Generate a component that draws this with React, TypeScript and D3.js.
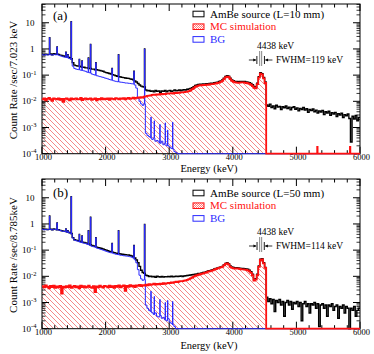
import React from 'react';
import * as d3 from 'd3';

// histogram binning used for every spectrum below (keV)
const binStart = 1000;
const binWidth = 25;
const lineWidthKeV = 6;

// gamma lines visible in AmBe and BG spectra
const lineEnergies = [1120, 1238, 1377, 1408, 1460, 1588, 1630, 1730, 1764, 1847, 2103, 2204, 2447, 2614];
const linePeaksA = [2.7, 1.2, 0.75, 0.6, 11, 0.4, 0.35, 0.45, 1.5, 0.3, 0.18, 0.6, 0.14, 1.0];
const linePeaksB = [2.0, 1.1, 0.65, 0.55, 11, 0.4, 0.35, 0.55, 1.8, 0.3, 0.18, 0.55, 0.15, 0.95];

// small BG lines above 2614 keV
const bgLineEnergies = [2714, 2766, 2855, 2939, 2976, 3055];
const bgLinesA = [0.0025, 0.0018, 0.0013, 0.0015, 0.0008, 0.0016];
const bgLinesB = [0.0027, 0.0017, 0.0013, 0.001, 0.0012, 0.0011];

// single-bin MC counts above the edge
const mcSpikeEnergies = [5330, 5845];
const mcSpikesA = [1.8e-4, 1.8e-4];
const mcSpikesB = [0, 0];

// (a) L=10 mm, 25 keV bins from 1000 keV
const amBeA = [
  0.62, 0.60, 0.63, 0.61, 0.62, 0.64, 0.60, 0.66, 0.62, 0.64,
  0.62, 0.58, 0.56, 0.54, 0.52, 0.50, 0.48, 0.46, 0.42, 0.30,
  0.24, 0.23, 0.22, 0.22, 0.21, 0.20, 0.20, 0.19, 0.19, 0.18,
  0.18, 0.17, 0.17, 0.16, 0.16, 0.155, 0.15, 0.145, 0.14, 0.13,
  0.125, 0.12, 0.115, 0.11, 0.105, 0.10, 0.095, 0.09, 0.088, 0.085,
  0.082, 0.08, 0.078, 0.076, 0.075, 0.072, 0.07, 0.066, 0.06, 0.055,
  0.048, 0.042, 0.038, 0.036, 0.035, 0.027, 0.025, 0.026, 0.024, 0.025,
  0.023, 0.026, 0.024, 0.025, 0.022, 0.025, 0.024, 0.026, 0.023, 0.025,
  0.026, 0.024, 0.025, 0.027, 0.025, 0.026, 0.027, 0.025, 0.027, 0.028,
  0.027, 0.029, 0.03, 0.031, 0.033, 0.036, 0.04, 0.042, 0.044, 0.045,
  0.045, 0.046, 0.045, 0.047, 0.046, 0.048, 0.049, 0.049, 0.051, 0.052,
  0.054, 0.057, 0.06, 0.066, 0.077, 0.089, 0.096, 0.092, 0.076, 0.065,
  0.061, 0.058, 0.057, 0.056, 0.057, 0.058, 0.057, 0.057, 0.055, 0.054,
  0.051, 0.048, 0.043, 0.037, 0.035, 0.049, 0.087, 0.124, 0.114, 0.082, 0.055,
  0.0072, 0.0065, 0.0078, 0.0058, 0.0066, 0.0052, 0.0071, 0.0060, 0.0064,
  0.0049, 0.0062, 0.0057, 0.0066, 0.0053, 0.0060, 0.0047, 0.0058, 0.0062, 0.0050,
  0.0056, 0.0043, 0.0054, 0.0049, 0.0058, 0.0046, 0.0052, 0.0038, 0.0049, 0.0044,
  0.0051, 0.0040, 0.0046, 0.0036, 0.0043, 0.0039, 0.0045, 0.0031, 0.0040, 0.0036,
  0.0042, 0.0029, 0.0037, 0.0033, 0.0038, 0.0026, 0.0034, 0.0030, 0.0035, 0.0024,
  0.0031, 0.0028, 0.0033, 0.0022, 0.00028, 0.0027, 0.0021, 0.0029, 0.0018, 0.0024,
];
const mcA = [
  0.012, 0.013, 0.011, 0.0125, 0.0135, 0.012, 0.0105, 0.013, 0.0125, 0.012,
  0.013, 0.0115, 0.0125, 0.0095, 0.0125, 0.013, 0.012, 0.011, 0.0128, 0.012,
  0.0125, 0.013, 0.0118, 0.0122, 0.0135, 0.0112, 0.0125, 0.0128, 0.0118, 0.0124,
  0.013, 0.0115, 0.0122, 0.0128, 0.0108, 0.0125, 0.012, 0.0132, 0.0118, 0.0126,
  0.0122, 0.013, 0.0115, 0.0128, 0.0125, 0.0118, 0.0132, 0.0126, 0.012, 0.0128,
  0.0125, 0.0133, 0.012, 0.0128, 0.0135, 0.0124, 0.013, 0.0138, 0.0128, 0.0135,
  0.014, 0.0135, 0.0145, 0.014, 0.015, 0.0155, 0.016, 0.0165, 0.017, 0.0175,
  0.018, 0.0175, 0.0185, 0.018, 0.019, 0.0185, 0.0192, 0.019, 0.0198, 0.0195,
  0.02, 0.0205, 0.0198, 0.021, 0.0208, 0.0215, 0.021, 0.022, 0.0218, 0.0225,
  0.023, 0.0235, 0.0245, 0.026, 0.029, 0.032, 0.036, 0.038, 0.04, 0.041,
  0.041, 0.042, 0.0415, 0.043, 0.0425, 0.044, 0.045, 0.0455, 0.047, 0.048,
  0.05, 0.052, 0.055, 0.06, 0.07, 0.082, 0.088, 0.085, 0.07, 0.06,
  0.056, 0.053, 0.052, 0.051, 0.052, 0.053, 0.053, 0.052, 0.05, 0.049,
  0.046, 0.043, 0.038, 0.033, 0.031, 0.045, 0.08, 0.115, 0.105, 0.075, 0.05,
];
const bgA = [
  0.6, 0.58, 0.61, 0.59, 0.6, 0.6, 0.58, 0.62, 0.6, 0.6,
  0.58, 0.55, 0.53, 0.5, 0.48, 0.47, 0.45, 0.43, 0.4, 0.22,
  0.18, 0.17, 0.165, 0.16, 0.155, 0.15, 0.145, 0.14, 0.13, 0.125,
  0.12, 0.11, 0.105, 0.1, 0.095, 0.092, 0.088, 0.085, 0.082, 0.078,
  0.075, 0.072, 0.068, 0.065, 0.062, 0.06, 0.058, 0.056, 0.055, 0.054,
  0.053, 0.052, 0.05, 0.05, 0.049, 0.048, 0.047, 0.046, 0.042, 0.032,
  0.013, 0.01, 0.008, 0.007, 0.008, 0.0006, 0.0005, 0.00045, 0.0004, 0.00035,
  0.0004, 0.0003, 0.00032, 0.00028, 0.00025, 0.0003, 0.00022, 0.00025, 0.0002, 0.0002,
  0.00018, 0.00016, 0.00015, 0.00012, 0.00011,
];

// (b) L=50 mm
const amBeB = [
  0.64, 0.62, 0.63, 0.61, 0.62, 0.63, 0.6, 0.64, 0.62, 0.6,
  0.6, 0.57, 0.55, 0.53, 0.52, 0.5, 0.48, 0.46, 0.43, 0.3,
  0.25, 0.24, 0.23, 0.22, 0.21, 0.2, 0.195, 0.19, 0.18, 0.17,
  0.16, 0.15, 0.145, 0.14, 0.13, 0.125, 0.12, 0.115, 0.11, 0.105,
  0.1, 0.095, 0.09, 0.087, 0.083, 0.08, 0.077, 0.075, 0.073, 0.071,
  0.07, 0.068, 0.067, 0.066, 0.065, 0.063, 0.06, 0.056, 0.05, 0.042,
  0.033, 0.024, 0.017, 0.014, 0.013, 0.011, 0.0105, 0.0098, 0.0102, 0.0095,
  0.0098, 0.0092, 0.0101, 0.0096, 0.0094, 0.0099, 0.0093, 0.0097, 0.0095, 0.0099,
  0.0096, 0.0101, 0.0095, 0.0098, 0.0102, 0.0097, 0.0101, 0.0104, 0.0099, 0.0103,
  0.0105, 0.0108, 0.011, 0.0112, 0.0115, 0.0118, 0.012, 0.0124, 0.0128, 0.013,
  0.0135, 0.014, 0.0145, 0.015, 0.016, 0.0165, 0.017, 0.018, 0.019, 0.02,
  0.021, 0.022, 0.023, 0.024, 0.027, 0.031, 0.033, 0.03, 0.025, 0.023,
  0.022, 0.021, 0.0215, 0.021, 0.0205, 0.02, 0.0198, 0.0195, 0.019, 0.0185,
  0.017, 0.015, 0.012, 0.0075, 0.0082, 0.012, 0.025, 0.045, 0.047, 0.033, 0.022,
  0.0016, 0.0011, 0.0014, 0.0009, 0.0013, 0.00045, 0.0012, 0.001, 0.0013,
  0.0008, 0.0011, 0.0003, 0.001, 0.0012, 0.0008, 0.0011, 0.00055, 0.001, 0.0009,
  0.0011, 0.0007, 0.001, 0.0002, 0.0009, 0.0011, 0.0007, 0.0009, 0.0004, 0.0009,
  0.0008, 0.001, 0.0006, 0.0009, 0.00012, 0.0008, 0.0009, 0.0006, 0.0008, 0.0003,
  0.0008, 0.0007, 0.0009, 0.0005, 0.0007, 0.0008, 0.00025, 0.0007, 0.0006, 0.0008,
  0.0004, 0.0007, 0.0006, 0.0001, 0.0006, 0.0005, 0.0007, 0.0003, 0.0005, 0.0006,
];
const mcB = [
  0.0042, 0.0038, 0.0045, 0.004, 0.0035, 0.0043, 0.0039, 0.0044, 0.0036, 0.0041,
  0.0038, 0.0043, 0.0022, 0.004, 0.0037, 0.0042, 0.0039, 0.0045, 0.0036, 0.004,
  0.0043, 0.0038, 0.0041, 0.0035, 0.0044, 0.0039, 0.0042, 0.0037, 0.004, 0.0044,
  0.0039, 0.0036, 0.0042, 0.0025, 0.0041, 0.0038, 0.0044, 0.004, 0.0037, 0.0043,
  0.0041, 0.0038, 0.0044, 0.0039, 0.0042, 0.0036, 0.0043, 0.004, 0.0045, 0.0038,
  0.0042, 0.0045, 0.0028, 0.0043, 0.004, 0.0046, 0.0041, 0.0044, 0.0039, 0.0045,
  0.0043, 0.0047, 0.0042, 0.0046, 0.0044, 0.0048, 0.0045, 0.005, 0.0047, 0.0049,
  0.0052, 0.0048, 0.0051, 0.0049, 0.0053, 0.005, 0.0055, 0.0052, 0.0054, 0.0056,
  0.0055, 0.0058, 0.0056, 0.006, 0.0062, 0.006, 0.0064, 0.0066, 0.0065, 0.0068,
  0.007, 0.0073, 0.0078, 0.0083, 0.009, 0.0098, 0.0105, 0.011, 0.0115, 0.012,
  0.0125, 0.013, 0.0135, 0.014, 0.015, 0.0155, 0.016, 0.017, 0.018, 0.019,
  0.02, 0.021, 0.022, 0.023, 0.026, 0.03, 0.031, 0.028, 0.023, 0.021,
  0.02, 0.0195, 0.02, 0.0195, 0.019, 0.0185, 0.0183, 0.018, 0.0175, 0.017,
  0.0155, 0.0135, 0.011, 0.0068, 0.0075, 0.011, 0.023, 0.042, 0.044, 0.031, 0.021,
];
const bgB = [
  0.62, 0.6, 0.62, 0.6, 0.61, 0.62, 0.59, 0.63, 0.61, 0.59,
  0.59, 0.56, 0.54, 0.52, 0.51, 0.49, 0.47, 0.45, 0.42, 0.29,
  0.24, 0.23, 0.22, 0.21, 0.2, 0.19, 0.185, 0.18, 0.17, 0.16,
  0.15, 0.14, 0.135, 0.13, 0.12, 0.115, 0.11, 0.105, 0.1, 0.095,
  0.09, 0.086, 0.082, 0.079, 0.076, 0.073, 0.07, 0.068, 0.066, 0.064,
  0.063, 0.061, 0.06, 0.059, 0.058, 0.056, 0.054, 0.05, 0.043, 0.033,
  0.018, 0.011, 0.008, 0.007, 0.0075, 0.0008, 0.0006, 0.0005, 0.00045, 0.0004,
  0.00035, 0.0004, 0.0003, 0.00028, 0.00032, 0.00025, 0.00027, 0.00022, 0.0002, 0.00024,
  0.00018, 0.00016, 0.00014, 0.00012, 0.0001,
];

const xTicks = [1000, 2000, 3000, 4000, 5000, 6000];
const yExponents = [-4, -3, -2, -1, 0, 1];
const legendLabelsA = ['AmBe source (L=10 mm)', 'MC simulation', 'BG'];
const legendLabelsB = ['AmBe source (L=50 mm)', 'MC simulation', 'BG'];
const gammaEnergy = 4438;
const fwhmA = 119;
const fwhmB = 114;

const font = "'Liberation Serif', 'DejaVu Serif', serif";
const colBlack = '#000';
const colRed = '#ff1010';
const colBlue = '#2b2bff';

const left = 42, right = 360, top = 4, bottom = 153.7;
const x = d3.scaleLinear().domain([1000, 6000]).range([left, right]);
const y = d3.scaleLog().domain([1e-4, 52]).range([bottom, top]).clamp(true);

type Seg = [number, number, number];

// split the histogram into constant segments, narrow lines on top of the bins
function segments(values: number[], lineE: number[] = [], lineV: number[] = []): Seg[] {
  const cuts = new Set<number>();
  for (let e = binStart; e <= 6000; e += binWidth) cuts.add(e);
  lineE.forEach(e => { cuts.add(e - lineWidthKeV / 2); cuts.add(e + lineWidthKeV / 2); });
  const edges = Array.from(cuts).sort((a, b) => a - b);
  const segs: Seg[] = [];
  for (let k = 0; k < edges.length - 1; k++) {
    const a = edges[k], b = edges[k + 1], mid = (a + b) / 2;
    const idx = Math.floor((mid - binStart) / binWidth);
    let v = idx < values.length ? values[idx] : 0;
    lineE.forEach((e, j) => {
      if (Math.abs(mid - e) < lineWidthKeV / 2) v = Math.max(v, lineV[j]);
    });
    segs.push([a, b, v]);
  }
  return segs;
}

function stepPath(segs: Seg[]) {
  let d = '';
  segs.forEach(([a, b, v], k) => {
    const yy = y(v > 0 ? v : 1e-9).toFixed(2);
    d += k === 0 ? `M${x(a).toFixed(2)},${yy}` : `V${yy}`;
    d += `H${x(b).toFixed(2)}`;
  });
  return d;
}

const Panel = ({ offset, id, tag, amBe, mc, bg, peaks, bgLines, mcSpikes, legend, yTitle, fwhm, legendDy, annDy, xTitleY }: any) => {
  const mcSegs = segments(mc, mcSpikeEnergies, mcSpikes);
  const amBeSegs = segments(amBe, lineEnergies, peaks);
  const bgSegs = segments(bg, [...lineEnergies, ...bgLineEnergies], [...peaks, ...bgLines]);
  const hatchArea = `${stepPath(mcSegs)}V${bottom}H${x(1000)}Z`;

  const minorX = d3.range(1000, 6001, 200).filter(v => v % 1000 !== 0);
  const minorY: number[] = [];
  for (let e = -4; e <= 1; e++) for (let m = 2; m <= 9; m++) if (m * 10 ** e <= 52) minorY.push(m * 10 ** e);

  const xc = x(gammaEnergy);
  const xl = x(gammaEnergy - fwhm / 2);
  const xr = x(gammaEnergy + fwhm / 2);
  const arrowY = 60 + annDy;

  return (
    <g transform={`translate(0,${offset})`}>
      <defs>
        <clipPath id={`clip-${id}`}>
          <rect x={left} y={top} width={right - left} height={bottom - top + 1.5} />
        </clipPath>
      </defs>
      <path d={hatchArea} fill="url(#hatch)" clipPath={`url(#clip-${id})`} />

      {/* frame and ticks */}
      <rect x={left} y={top} width={right - left} height={bottom - top} fill="none" stroke="#000" strokeWidth={1} />
      {xTicks.map(t => (
        <g key={`xt${t}`}>
          <line x1={x(t)} x2={x(t)} y1={bottom} y2={bottom - 7} stroke="#000" />
          <line x1={x(t)} x2={x(t)} y1={top} y2={top + 7} stroke="#000" />
          <text x={x(t) + 1.5} y={bottom + 6} fontSize={8.5} textAnchor="middle" fontFamily={font}>{t}</text>
        </g>
      ))}
      {minorX.map(t => (
        <g key={`xm${t}`}>
          <line x1={x(t)} x2={x(t)} y1={bottom} y2={bottom - 3.5} stroke="#000" />
          <line x1={x(t)} x2={x(t)} y1={top} y2={top + 3.5} stroke="#000" />
        </g>
      ))}
      {yExponents.map(e => (
        <g key={`yt${e}`}>
          <line x1={left} x2={left + 7} y1={y(10 ** e)} y2={y(10 ** e)} stroke="#000" />
          <line x1={right} x2={right - 7} y1={y(10 ** e)} y2={y(10 ** e)} stroke="#000" />
          <text x={e < 0 ? 36.5 : 34.5} y={y(10 ** e) + 3} fontSize={9} textAnchor="end" fontFamily={font}>
            {e === 0 ? '1' : '10'}
            {e < 0 && <tspan dy={-3.5} fontSize={6.5}>{`-${-e}`}</tspan>}
          </text>
        </g>
      ))}
      {minorY.map(v => (
        <g key={`ym${v}`}>
          <line x1={left} x2={left + 3.5} y1={y(v)} y2={y(v)} stroke="#000" strokeWidth={0.8} />
          <line x1={right} x2={right - 3.5} y1={y(v)} y2={y(v)} stroke="#000" strokeWidth={0.8} />
        </g>
      ))}

      {/* spectra */}
      <g clipPath={`url(#clip-${id})`} fill="none">
        <path d={stepPath(amBeSegs)} stroke={colBlack} strokeWidth={1.4} />
        <path d={stepPath(bgSegs)} stroke={colBlue} strokeWidth={1} />
        <path d={stepPath(mcSegs)} stroke={colRed} strokeWidth={1.8} />
      </g>

      <text x={53} y={20 + (offset ? 2 : 0)} fontSize={13} fontFamily={font}>{tag}</text>

      {/* legend */}
      {legend.map((label: string, i: number) => {
        const cy = 14 + legendDy + i * 12.7;
        const stroke = i === 0 ? colBlack : i === 1 ? colRed : colBlue;
        return (
          <g key={label}>
            <rect x={193} y={cy - 2.8} width={11} height={5.6} fill={i === 1 ? 'url(#hatchDense)' : 'none'} stroke={stroke} strokeWidth={1} />
            <text x={210} y={cy + 3.6} fontSize={11} fontFamily={font} fill={i === 0 ? '#000' : stroke}>{label}</text>
          </g>
        );
      })}

      {/* 4438 keV annotation */}
      <text x={257} y={49 + annDy} fontSize={9.5} fontFamily={font}>{`${gammaEnergy} keV`}</text>
      <line x1={xc - 1} x2={xc - 1} y1={arrowY - 9} y2={arrowY + 6} stroke="#777" strokeWidth={0.9} />
      <line x1={xc + 1} x2={xc + 1} y1={arrowY - 9} y2={arrowY + 6} stroke="#777" strokeWidth={0.9} />
      <line x1={xl} x2={xl} y1={arrowY - 4} y2={arrowY + 4} stroke="#000" strokeWidth={0.9} />
      <line x1={xr} x2={xr} y1={arrowY - 4} y2={arrowY + 4} stroke="#000" strokeWidth={0.9} />
      <line x1={xl - 8} x2={xl - 1} y1={arrowY} y2={arrowY} stroke="#000" strokeWidth={0.8} />
      <path d={`M${xl - 0.6},${arrowY}l-3,-1.6v3.2z`} fill="#000" />
      <line x1={xr + 1} x2={xr + 8} y1={arrowY} y2={arrowY} stroke="#000" strokeWidth={0.8} />
      <path d={`M${xr + 0.6},${arrowY}l3,-1.6v3.2z`} fill="#000" />
      <text x={276} y={arrowY + 2.8} fontSize={9.5} fontFamily={font}>{`FWHM=${fwhm} keV`}</text>

      {/* axis titles */}
      <text x={209} y={xTitleY} fontSize={10.5} textAnchor="middle" fontFamily={font}>Energy (keV)</text>
      <text transform={`translate(17,80) rotate(-90)`} fontSize={11} textAnchor="middle" fontFamily={font}>{yTitle}</text>
    </g>
  );
};

export default function App() {
  return (
    <svg width={374} height={354} viewBox="0 0 374 354" style={{ position: 'absolute', left: 0, top: 0, background: '#fff' }}>
      <defs>
        <pattern id="hatch" patternUnits="userSpaceOnUse" width={5} height={5}>
          <path d="M0,0L5,5M-1.25,3.75L1.25,6.25M3.75,-1.25L6.25,1.25" stroke="#f26a6a" strokeWidth={0.8} />
        </pattern>
        <pattern id="hatchDense" patternUnits="userSpaceOnUse" width={2} height={2}>
          <path d="M0,0L2,2M-0.5,1.5L0.5,2.5M1.5,-0.5L2.5,0.5" stroke="#ff4040" strokeWidth={0.7} />
        </pattern>
      </defs>
      <rect width={374} height={354} fill="#fff" />
      <Panel offset={0} id="a" tag="(a)" amBe={amBeA} mc={mcA} bg={bgA} peaks={linePeaksA} bgLines={bgLinesA}
        mcSpikes={mcSpikesA} legend={legendLabelsA} yTitle="Count Rate  /sec/7.023 keV" fwhm={fwhmA}
        legendDy={0} annDy={0} xTitleY={171.5} />
      <Panel offset={175} id="b" tag="(b)" amBe={amBeB} mc={mcB} bg={bgB} peaks={linePeaksB} bgLines={bgLinesB}
        mcSpikes={mcSpikesB} legend={legendLabelsB} yTitle="Count Rate  /sec/8.785keV" fwhm={fwhmB}
        legendDy={4} annDy={11} xTitleY={173.5} />
    </svg>
  );
}
